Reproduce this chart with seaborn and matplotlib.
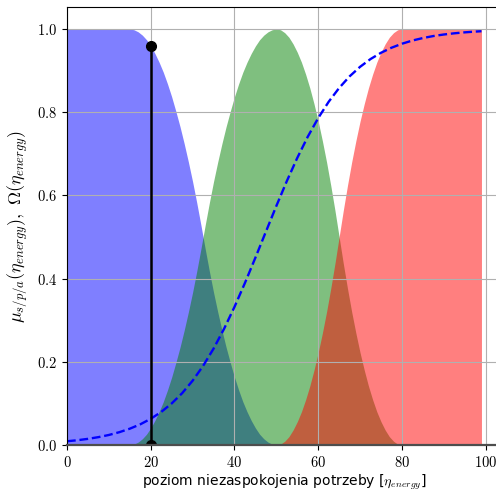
import numpy as np
import pandas as pd
import matplotlib
matplotlib.use("Agg")
import matplotlib.pyplot as plt
from matplotlib.ticker import FormatStrFormatter
import seaborn as sns

plt.rcParams['mathtext.fontset'] = 'cm'
plt.rcParams['font.size'] = 10

# mu_s: potrzeba zaspokojona
x_s = [0] + list(range(15, 51)) + [99]
mu_s = [1, 1, 0.998, 0.993, 0.985, 0.974, 0.959, 0.941, 0.920, 0.896, 0.868, 0.837,
        0.802, 0.765, 0.724, 0.680, 0.633, 0.582, 0.528, 0.472, 0.418, 0.367, 0.320,
        0.276, 0.235, 0.198, 0.163, 0.132, 0.104, 0.080, 0.059, 0.041, 0.026, 0.015,
        0.007, 0.002, 0, 0]

# mu_p: potrzeba czesciowo zaspokojona
x_p = [0] + list(range(15, 81)) + [99]
mu_p = [0, 0, 0.002, 0.007, 0.015, 0.026, 0.041, 0.059, 0.080, 0.104, 0.132, 0.163,
        0.198, 0.235, 0.276, 0.320, 0.367, 0.418, 0.472, 0.528, 0.582, 0.633, 0.680,
        0.724, 0.765, 0.802, 0.837, 0.868, 0.896, 0.920, 0.941, 0.959, 0.974, 0.985,
        0.993, 0.998, 1.0,
        0.998, 0.991, 0.980, 0.964, 0.944, 0.920, 0.891, 0.858, 0.820, 0.778, 0.731,
        0.680, 0.624, 0.564, 0.5, 0.436, 0.376, 0.320, 0.269, 0.222, 0.180, 0.142,
        0.109, 0.080, 0.056, 0.036, 0.020, 0.009, 0.002, 0, 0]

# mu_a: potrzeba niezaspokojona
x_a = [0] + list(range(50, 81)) + [99]
mu_a = [0, 0, 0.002, 0.009, 0.020, 0.036, 0.056, 0.080, 0.109, 0.142, 0.180, 0.222,
        0.269, 0.320, 0.376, 0.436, 0.5, 0.564, 0.624, 0.680, 0.731, 0.778, 0.820,
        0.858, 0.891, 0.920, 0.944, 0.964, 0.980, 0.991, 0.998, 1, 1]

# Omega
x_o = [0, 2.5, 5, 7.5, 10, 12.5, 15, 17.5, 20, 22.5, 25, 27.5, 30, 32.5, 35, 37.5,
       40, 42.5, 45, 47.5, 50, 52.5, 55, 57.5, 60, 62.5, 65, 67.5, 70, 72.5, 75,
       77.5, 80, 82.5, 85, 87.5, 90, 92.5, 95, 97.5, 99]
omega = [0.0090, 0.0115, 0.0148, 0.0189, 0.0241, 0.0308, 0.0392, 0.0497, 0.0630,
         0.0794, 0.0998, 0.1245, 0.1545, 0.1900, 0.2315, 0.2789, 0.3318, 0.3894,
         0.4502, 0.5125, 0.5744, 0.6341, 0.6900, 0.7408, 0.7858, 0.8249, 0.8581,
         0.8860, 0.9089, 0.9276, 0.9427, 0.9548, 0.9644, 0.9721, 0.9781, 0.9829,
         0.9866, 0.9895, 0.9918, 0.9936, 0.9945]

# aktualny punkt
eta_now = 20
mu_now = 0.96

fig = plt.figure(figsize=(4.96, 4.92), dpi=100)
ax = fig.add_axes([67/496, 47/492, 435.4/496, 437.7/492])

ax.fill_between(x_s, mu_s, color="b", alpha=0.5, lw=0)
ax.fill_between(x_p, mu_p, color="g", alpha=0.5, lw=0)
ax.fill_between(x_a, mu_a, color="r", alpha=0.5, lw=0)

df_o = pd.DataFrame({"eta": x_o, "omega": omega})
sns.lineplot(data=df_o, x="eta", y="omega", ax=ax, color="b", linestyle="--", lw=1.7)

ax.plot([eta_now, eta_now], [0, mu_now], color="k", lw=1.8, marker="o", ms=7)

ax.set_xlim(0, 104)
ax.set_ylim(0, 1.052)
ax.set_xticks([0, 20, 40, 60, 80, 100])
ax.set_yticks([0.0, 0.2, 0.4, 0.6, 0.8, 1.0])
ax.xaxis.set_major_formatter(FormatStrFormatter(r"$%d$"))
ax.yaxis.set_major_formatter(FormatStrFormatter(r"$%.1f$"))
ax.tick_params(labelsize=10.5)
ax.grid(True)
for l in ax.get_xgridlines() + ax.get_ygridlines():
    l.set_zorder(0.5)
ax.spines["bottom"].set_color("0.3")
ax.spines["bottom"].set_linewidth(1.6)

ax.set_xlabel(r"poziom niezaspokojenia potrzeby [$\eta_{energy}$]", labelpad=2)
ax.set_ylabel(r"$\mu_{s/p/a}(\eta_{energy}),\ \Omega(\eta_{energy})$", fontsize=13, labelpad=6)

fig.savefig("out.png", dpi=100)
